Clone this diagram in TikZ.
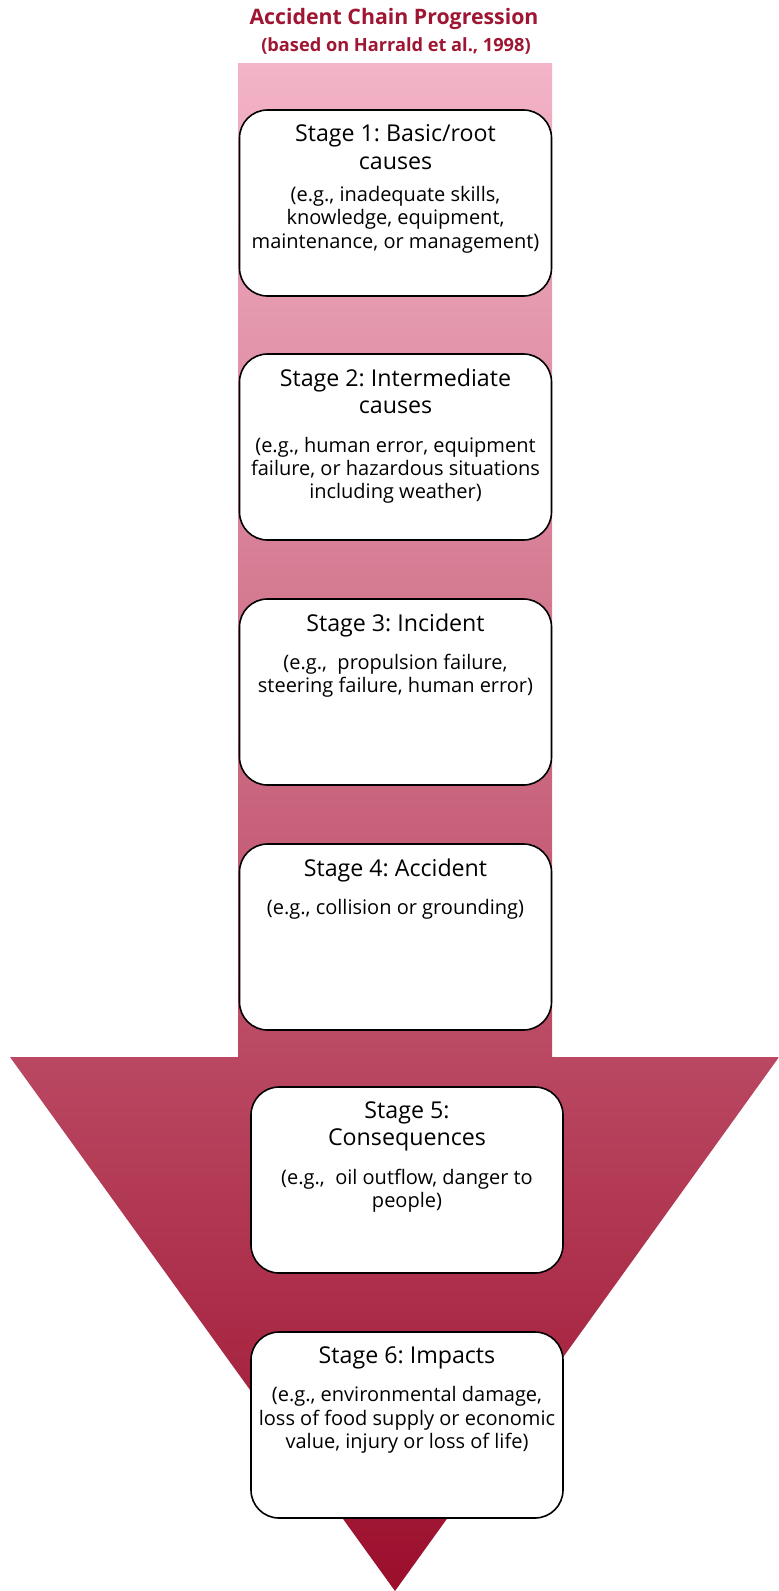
\documentclass[tikz,border=0pt]{standalone}
\usepackage{fontspec}
\setmainfont{Open Sans}
\usepackage{tikz}
\usetikzlibrary{positioning}
\frenchspacing

\definecolor{chaintop}{RGB}{243,180,199}
\definecolor{chainbottom}{RGB}{155,14,44}
\definecolor{titlered}{RGB}{158,22,50}

\tikzset{
  stagebox/.style={draw=black, line width=1.6pt, fill=white, rounded corners=28pt,
    minimum width=312pt, minimum height=186pt, inner sep=0pt},
  stagetext/.style={anchor=north, inner sep=0pt},
}
\newcommand{\stagetitle}[1]{{\fontsize{23.2}{27.6}\selectfont #1\par}}
\newcommand{\stagebody}[2]{\vspace{#1}{\fontsize{20}{23.4}\selectfont #2\par}}
\newcommand{\stagecontent}[3][15pt]{\parbox{306pt}{\centering\stagetitle{#2}\stagebody{#1}{#3}}}

\begin{document}
\begin{tikzpicture}[line cap=round,line join=round,x=1pt,y=-1pt]
\useasboundingbox (0,0) rectangle (779,1591);
% the big arrow
\shade [top color=chaintop, bottom color=chainbottom] (238,63) -- (552,63) -- (552,1057) -- (779,1057)
  -- (395,1591) -- (10,1057) -- (238,1057) -- cycle;
% title
\node[text=titlered, font=\bfseries\fontsize{21.3}{24}\selectfont] (title) at (394,19) {Accident Chain Progression};
\node[text=titlered, font=\bfseries\fontsize{18.2}{21}\selectfont] (subtitle) at (396,46) {(based on Harrald et al., 1998)};
% stage boxes
\node[stagebox] (s1) at (395.5,203) {};
\node[stagebox] (s2) at (395.5,447) {};
\node[stagebox] (s3) at (395.5,692) {};
\node[stagebox] (s4) at (395.5,937) {};
\node[stagebox] (s5) at (407,1180) {};
\node[stagebox] (s6) at (407,1425) {};
% stage texts
\node[stagetext] (t1) at ([yshift=-15pt]s1.north) {\stagecontent[9pt]{Stage 1: Basic/root\\causes}{(e.g., inadequate skills,\\knowledge, equipment,\\maintenance, or management)}};
\node[stagetext] (t2) at ([yshift=-15pt]s2.north) {\stagecontent{Stage 2: Intermediate\\causes}{(e.g., human error, equipment\\failure, or hazardous situations\\including weather)}};
\node[stagetext] (t3) at ([yshift=-15pt]s3.north) {\stagecontent{Stage 3: Incident}{(e.g.,\ \ propulsion failure,\\steering failure, human error)}};
\node[stagetext] (t4) at ([yshift=-15pt]s4.north) {\stagecontent{Stage 4: Accident}{(e.g., collision or grounding)}};
\node[stagetext] (t5) at ([yshift=-15pt]s5.north) {\stagecontent{Stage 5:\\Consequences}{(e.g.,\ \ oil outflow, danger to\\people)}};
\node[stagetext] (t6) at ([yshift=-15pt]s6.north) {\stagecontent{Stage 6: Impacts}{(e.g., environmental damage,\\loss of food supply or economic\\value, injury or loss of life)}};
\end{tikzpicture}
\end{document}
